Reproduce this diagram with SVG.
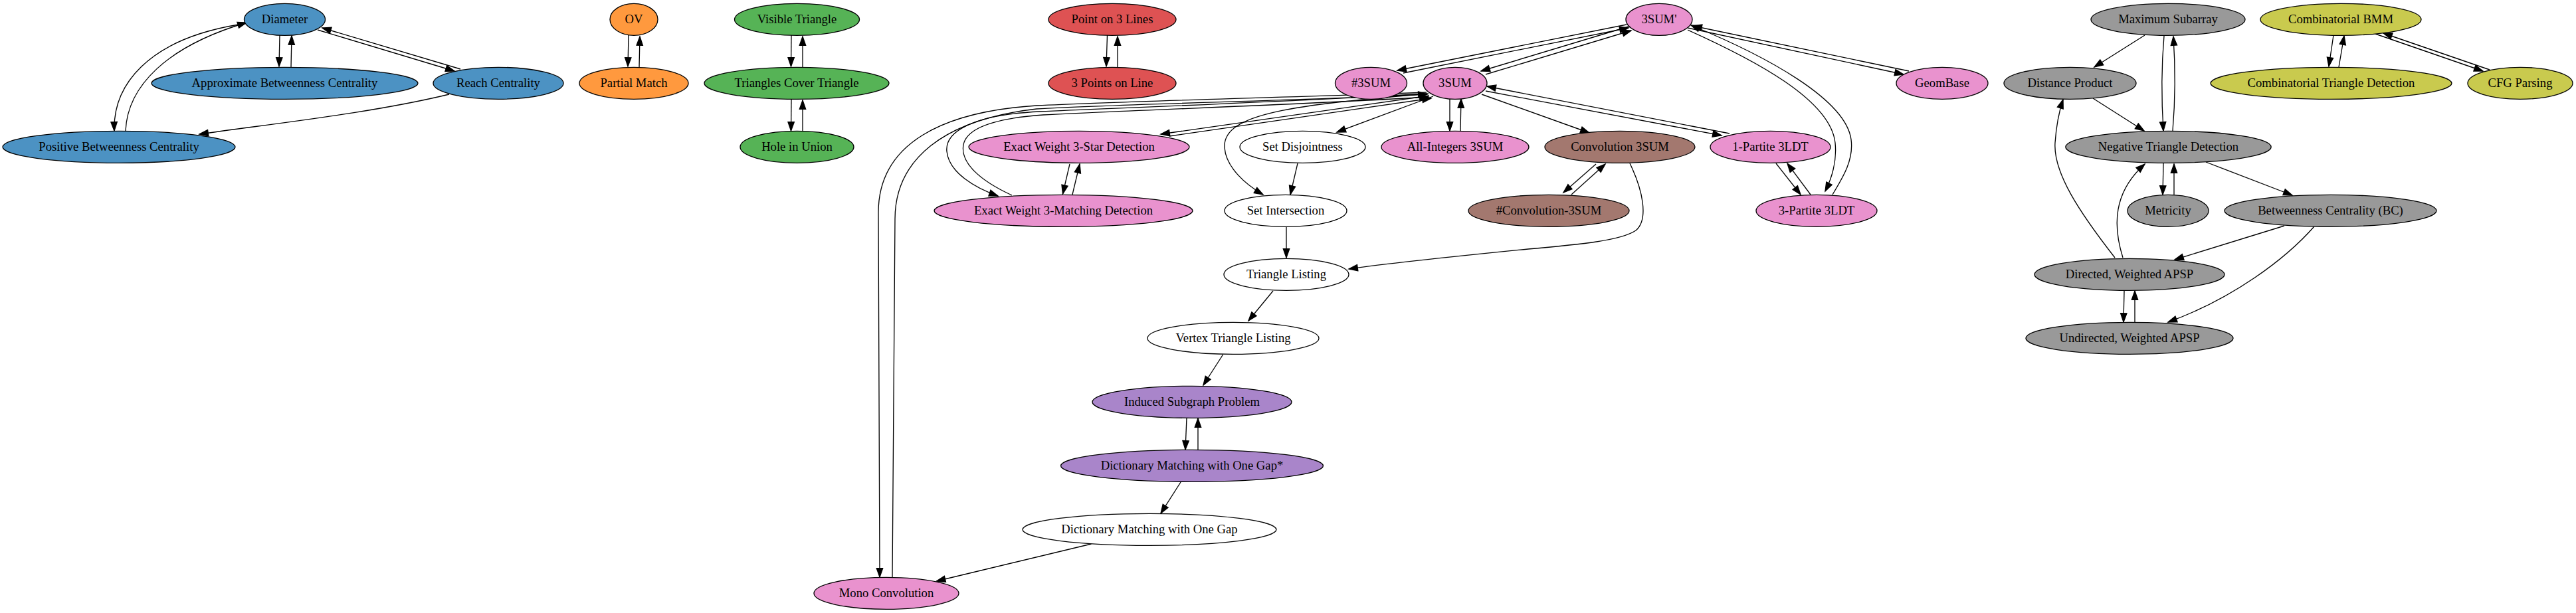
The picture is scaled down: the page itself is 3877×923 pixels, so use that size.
<svg xmlns="http://www.w3.org/2000/svg" width="3877" height="923" viewBox="0 0 3877 923">
<defs>
<marker id="ah" viewBox="0 0 14 10" markerWidth="14" markerHeight="10" refX="13.3" refY="5" orient="auto" markerUnits="userSpaceOnUse" overflow="visible"><path d="M0,0.33 L13.3,5 L0,9.67 Z" fill="#000" stroke="#000" stroke-width="1.33"/></marker>
<style>
.n ellipse{stroke:#000;stroke-width:1.33}
.n text{font-family:"Liberation Serif","Times New Roman",serif;font-size:18.67px;text-anchor:middle;fill:#000}
.e path{fill:none;stroke:#000;stroke-width:1.33;marker-end:url(#ah)}
.bl{fill:#4c92c3}.or{fill:#ff993e}.gr{fill:#56b356}.rd{fill:#de5253}.pk{fill:#e992ce}.gy{fill:#999999}.br{fill:#a3786f}.pu{fill:#a985ca}.ol{fill:#c9ca4e}.wh{fill:#ffffff}
</style>
</defs>
<rect width="3877" height="923" fill="#fff"/>
<g id="edges" class="e">
<path d="M421,53 L420,100"/>
<path d="M438,101 L439,54"/>
<path d="M478,45 L684,107"/>
<path d="M693,104 L485,42"/>
<path d="M359,37 C220,60 170,130 172,197"/>
<path d="M189,197 C192,130 250,70 371,34"/>
<path d="M676,142 C560,170 420,185 300,202"/>
<path d="M946,53 L945,100"/>
<path d="M962,101 L963,55"/>
<path d="M1191,53 L1190.5,100"/>
<path d="M1208,101 L1208,55"/>
<path d="M1191,150 L1190.5,197"/>
<path d="M1208,197 L1208,151"/>
<path d="M1666.5,53 L1665,100"/>
<path d="M1682,101 L1682,55"/>
<path d="M2448,37 L2103,106"/>
<path d="M2112,110 L2451,42"/>
<path d="M2451,40 L2229,107"/>
<path d="M2236,112 L2455,46"/>
<path d="M2540,42 L2865,112"/>
<path d="M2873,107 L2548,39"/>
<path d="M2540,45 C2640,90 2755,150 2762,215 C2765,245 2755,272 2747,288"/>
<path d="M2758,293 C2775,265 2790,240 2786,210 C2778,150 2660,85 2545,38"/>
<path d="M2236,137 L2591,204"/>
<path d="M2603,201 L2238,130"/>
<path d="M2230,142 L2392,200"/>
<path d="M2182,149 L2182,197"/>
<path d="M2198,197 L2199,149"/>
<path d="M2402,247 L2353,290"/>
<path d="M2365,293 L2416,247"/>
<path d="M2673,246 L2710,293"/>
<path d="M2725,293 L2690,246"/>
<path d="M2157,145 L2012,199"/>
<path d="M1953,246 L1942,293"/>
<path d="M2150,141 C1950,158 1840,170 1843,222 C1845,252 1875,278 1901,293"/>
<path d="M1936,342 L1936,388"/>
<path d="M2453,246 C2472,285 2482,330 2462,347 C2440,362 2380,368 2300,375 C2200,385 2100,395 2030,405"/>
<path d="M1916,438 L1879,483"/>
<path d="M1840.6,534 L1811,580"/>
<path d="M1786,629 L1784,677"/>
<path d="M1803,677 L1803,630"/>
<path d="M1777,726 L1747,773"/>
<path d="M1642.5,819 L1409.5,875"/>
<path d="M2151,144 L1747,202"/>
<path d="M1760,205 L2154,148"/>
<path d="M1610,247 L1599.5,292"/>
<path d="M1614,293 L1625,247"/>
<path d="M2148,141 C1900,155 1700,162 1565,168 C1460,173 1422,200 1425,228 C1428,260 1468,283 1502,295"/>
<path d="M1523,294 C1475,272 1445,245 1450,218 C1455,192 1500,178 1570,173 C1750,164 1950,158 2150,146"/>
<path d="M2147,139 C1900,148 1700,152 1560,159 C1420,168 1322,215 1322,320 L1324,869"/>
<path d="M1343,869 L1347,330 C1347,240 1420,180 1560,164 C1700,156 1950,152 2148,142"/>
<path d="M3228,53 L3152,101"/>
<path d="M3257,54 C3253,100 3253,150 3256,197"/>
<path d="M3270,197 C3274,150 3274,100 3271,55"/>
<path d="M3150,148 L3227,197"/>
<path d="M3256,246 L3255,293"/>
<path d="M3272,293 L3272,247"/>
<path d="M3320,244 L3450,294"/>
<path d="M3438,340 L3273,391"/>
<path d="M3483,341 C3440,390 3360,450 3263,485"/>
<path d="M3183,388 C3130,320 3090,260 3093,215 C3095,185 3100,165 3105,150"/>
<path d="M3195,388 C3180,340 3180,290 3228,247"/>
<path d="M3197,438 L3196,485"/>
<path d="M3213,485 L3213,438"/>
<path d="M3512,53 L3505,100"/>
<path d="M3520,101 L3528,54"/>
<path d="M3575,51 L3737,107"/>
<path d="M3747,105 L3587,50"/>
</g>
<g id="diameter" class="n"><ellipse class="bl" cx="428.5" cy="29.33" rx="61" ry="24"/><text x="428.5" y="35.33">Diameter</text></g>
<g id="ov" class="n"><ellipse class="or" cx="954" cy="29.33" rx="36" ry="24"/><text x="954" y="35.33">OV</text></g>
<g id="visible-triangle" class="n"><ellipse class="gr" cx="1199.5" cy="29.33" rx="94" ry="24"/><text x="1199.5" y="35.33">Visible Triangle</text></g>
<g id="point-on-3-lines" class="n"><ellipse class="rd" cx="1674" cy="29.33" rx="96" ry="24"/><text x="1674" y="35.33">Point on 3 Lines</text></g>
<g id="3sum-prime" class="n"><ellipse class="pk" cx="2497" cy="29.33" rx="50" ry="24"/><text x="2497" y="35.33">3SUM'</text></g>
<g id="maximum-subarray" class="n"><ellipse class="gy" cx="3263" cy="29.33" rx="116" ry="24"/><text x="3263" y="35.33">Maximum Subarray</text></g>
<g id="combinatorial-bmm" class="n"><ellipse class="ol" cx="3523" cy="29.33" rx="121" ry="24"/><text x="3523" y="35.33">Combinatorial BMM</text></g>
<g id="approx-bc" class="n"><ellipse class="bl" cx="428.5" cy="125.33" rx="200.5" ry="24"/><text x="428.5" y="131.33">Approximate Betweenness Centrality</text></g>
<g id="reach-centrality" class="n"><ellipse class="bl" cx="750" cy="125.33" rx="98" ry="24"/><text x="750" y="131.33">Reach Centrality</text></g>
<g id="partial-match" class="n"><ellipse class="or" cx="954" cy="125.33" rx="82" ry="24"/><text x="954" y="131.33">Partial Match</text></g>
<g id="triangles-cover-triangle" class="n"><ellipse class="gr" cx="1199" cy="125.33" rx="139" ry="24"/><text x="1199" y="131.33">Triangles Cover Triangle</text></g>
<g id="3-points-on-line" class="n"><ellipse class="rd" cx="1674" cy="125.33" rx="96" ry="24"/><text x="1674" y="131.33">3 Points on Line</text></g>
<g id="count-3sum" class="n"><ellipse class="pk" cx="2063.5" cy="125.33" rx="54" ry="24"/><text x="2063.5" y="131.33">#3SUM</text></g>
<g id="3sum" class="n"><ellipse class="pk" cx="2190" cy="125.33" rx="48" ry="24"/><text x="2190" y="131.33">3SUM</text></g>
<g id="geombase" class="n"><ellipse class="pk" cx="2923" cy="125.33" rx="69" ry="24"/><text x="2923" y="131.33">GeomBase</text></g>
<g id="distance-product" class="n"><ellipse class="gy" cx="3115.5" cy="125.33" rx="99.5" ry="24"/><text x="3115.5" y="131.33">Distance Product</text></g>
<g id="comb-triangle-detection" class="n"><ellipse class="ol" cx="3508.5" cy="125.33" rx="181.5" ry="24"/><text x="3508.5" y="131.33">Combinatorial Triangle Detection</text></g>
<g id="cfg-parsing" class="n"><ellipse class="ol" cx="3793" cy="125.33" rx="79" ry="24"/><text x="3793" y="131.33">CFG Parsing</text></g>
<g id="positive-bc" class="n"><ellipse class="bl" cx="179" cy="221.33" rx="175" ry="24"/><text x="179" y="227.33">Positive Betweenness Centrality</text></g>
<g id="hole-in-union" class="n"><ellipse class="gr" cx="1199.5" cy="221.33" rx="85.5" ry="24"/><text x="1199.5" y="227.33">Hole in Union</text></g>
<g id="ew-3-star" class="n"><ellipse class="pk" cx="1624" cy="221.33" rx="166" ry="24"/><text x="1624" y="227.33">Exact Weight 3-Star Detection</text></g>
<g id="set-disjointness" class="n"><ellipse class="wh" cx="1960.5" cy="221.33" rx="94.5" ry="24"/><text x="1960.5" y="227.33">Set Disjointness</text></g>
<g id="all-integers-3sum" class="n"><ellipse class="pk" cx="2190" cy="221.33" rx="111" ry="24"/><text x="2190" y="227.33">All-Integers 3SUM</text></g>
<g id="convolution-3sum" class="n"><ellipse class="br" cx="2438" cy="221.33" rx="113" ry="24"/><text x="2438" y="227.33">Convolution 3SUM</text></g>
<g id="1-partite-3ldt" class="n"><ellipse class="pk" cx="2664.5" cy="221.33" rx="90.5" ry="24"/><text x="2664.5" y="227.33">1-Partite 3LDT</text></g>
<g id="negative-triangle-detection" class="n"><ellipse class="gy" cx="3263.5" cy="221.33" rx="154.7" ry="24"/><text x="3263.5" y="227.33">Negative Triangle Detection</text></g>
<g id="ew-3-matching" class="n"><ellipse class="pk" cx="1600.5" cy="317.33" rx="194.5" ry="24"/><text x="1600.5" y="323.33">Exact Weight 3-Matching Detection</text></g>
<g id="set-intersection" class="n"><ellipse class="wh" cx="1935" cy="317.33" rx="92" ry="24"/><text x="1935" y="323.33">Set Intersection</text></g>
<g id="count-convolution-3sum" class="n"><ellipse class="br" cx="2331" cy="317.33" rx="121" ry="24"/><text x="2331" y="323.33">#Convolution-3SUM</text></g>
<g id="3-partite-3ldt" class="n"><ellipse class="pk" cx="2734" cy="317.33" rx="91" ry="24"/><text x="2734" y="323.33">3-Partite 3LDT</text></g>
<g id="metricity" class="n"><ellipse class="gy" cx="3263" cy="317.33" rx="61" ry="24"/><text x="3263" y="323.33">Metricity</text></g>
<g id="betweenness-centrality" class="n"><ellipse class="gy" cx="3507.5" cy="317.33" rx="159.5" ry="24"/><text x="3507.5" y="323.33">Betweenness Centrality (BC)</text></g>
<g id="triangle-listing" class="n"><ellipse class="wh" cx="1936" cy="413.33" rx="94" ry="24"/><text x="1936" y="419.33">Triangle Listing</text></g>
<g id="directed-apsp" class="n"><ellipse class="gy" cx="3205" cy="413.33" rx="143" ry="24"/><text x="3205" y="419.33">Directed, Weighted APSP</text></g>
<g id="vertex-triangle-listing" class="n"><ellipse class="wh" cx="1856" cy="509.33" rx="129" ry="24"/><text x="1856" y="515.33">Vertex Triangle Listing</text></g>
<g id="undirected-apsp" class="n"><ellipse class="gy" cx="3205" cy="509.33" rx="156" ry="24"/><text x="3205" y="515.33">Undirected, Weighted APSP</text></g>
<g id="induced-subgraph" class="n"><ellipse class="pu" cx="1794" cy="605.33" rx="150" ry="24"/><text x="1794" y="611.33">Induced Subgraph Problem</text></g>
<g id="dmog-star" class="n"><ellipse class="pu" cx="1794" cy="701.33" rx="197.5" ry="24"/><text x="1794" y="707.33">Dictionary Matching with One Gap*</text></g>
<g id="dmog" class="n"><ellipse class="wh" cx="1730" cy="797.33" rx="191" ry="24"/><text x="1730" y="803.33">Dictionary Matching with One Gap</text></g>
<g id="mono-convolution" class="n"><ellipse class="pk" cx="1334" cy="893.33" rx="109" ry="24"/><text x="1334" y="899.33">Mono Convolution</text></g>
</svg>
